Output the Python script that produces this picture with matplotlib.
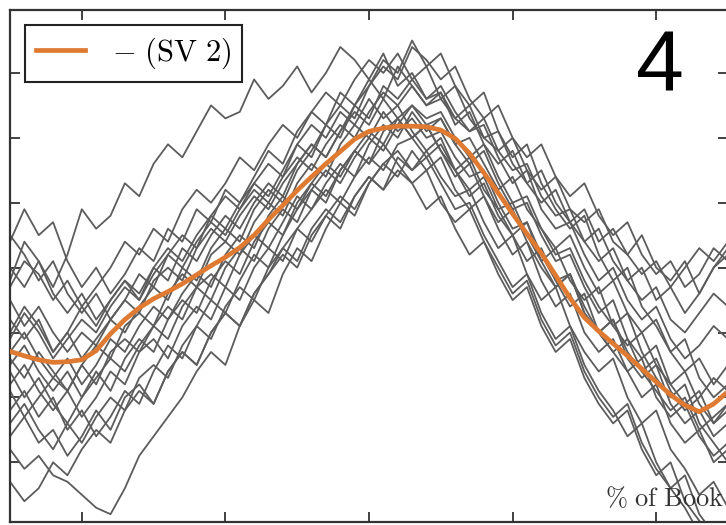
import matplotlib
matplotlib.use("Agg")
import matplotlib.pyplot as plt
import numpy as np

plt.rcParams["mathtext.fontset"] = "cm"

# position in the book (%), one sample every 2 %
pct_book = np.arange(0, 100.1, 2)

# smoothed mean curve, SV 2
sv2_mean = [-1.29, -1.36, -1.42, -1.46, -1.45, -1.42, -1.28, -1.02, -0.80, -0.62,
            -0.48, -0.37, -0.25, -0.11, 0.03, 0.16, 0.31, 0.50, 0.74, 0.96,
            1.19, 1.40, 1.60, 1.79, 1.98, 2.10, 2.15, 2.18, 2.18, 2.17,
            2.12, 1.99, 1.76, 1.46, 1.15, 0.83, 0.52, 0.22, -0.12, -0.47,
            -0.77, -0.98, -1.17, -1.36, -1.56, -1.76, -1.96, -2.12, -2.22, -2.10, -1.91]

# individual books (SV 2 time series)
book_a = [-0.2, 0.4, 0.1, -0.3, 0.2, 0.9, 0.6, 0.8, 1.3, 1.1, 1.6, 1.9, 1.7, 2.1, 2.5, 2.3, 2.4, 2.9, 2.6, 2.8,
          3.1, 2.7, 3.0, 3.4, 3.2, 2.9, 3.3, 2.8, 3.0, 2.6, 2.7, 2.3, 2.5, 2.0, 1.8, 2.0, 1.5, 1.2, 1.4, 0.9,
          0.7, 0.9, 0.4, 0.2, 0.5, 0.0, -0.2, 0.1, -0.4, 0.0, 0.3]
book_b = [0.4, 0.9, 0.5, 0.7, 0.1, -0.3, 0.0, -0.4, -0.1, 0.3, 0.1, 0.6, 0.4, 0.9, 0.7, 1.2, 1.0, 1.4, 1.8, 1.6,
          2.1, 2.4, 2.2, 2.7, 2.5, 2.9, 2.6, 3.1, 2.8, 2.5, 2.7, 2.2, 2.4, 1.9, 1.6, 1.8, 1.3, 1.0, 1.2, 0.7,
          0.4, 0.6, 0.1, -0.2, 0.0, -0.5, -0.3, -0.7, -0.4, 0.0, 0.2]
book_c = [-2.6, -2.3, -2.7, -2.5, -2.9, -2.6, -2.2, -2.5, -2.0, -1.8, -2.1, -1.6, -1.3, -1.5, -1.0, -0.7, -0.9, -0.4, -0.1, 0.3,
          0.1, 0.6, 0.9, 0.7, 1.1, 1.4, 1.2, 1.5, 1.3, 0.9, 1.1, 0.6, 0.2, 0.4, -0.1, -0.5, -0.3, -0.9, -1.3, -1.1,
          -1.7, -2.1, -2.4, -2.2, -2.8, -3.2, -3.0, -3.6, -3.9, -4.2, -4.5]
book_d = [-2.8, -3.1, -2.9, -3.2, -3.3, -3.5, -3.7, -3.8, -3.4, -2.9, -2.6, -2.3, -2.0, -1.6, -1.3, -1.5, -0.9, -0.5, -0.7, -0.1,
          0.3, 0.1, 0.6, 1.0, 0.8, 1.3, 1.6, 1.4, 1.8, 1.5, 1.7, 1.2, 0.9, 1.1, 0.6, 0.2, 0.4, -0.2, -0.6, -0.4,
          -1.0, -1.3, -1.1, -1.6, -2.0, -1.8, -2.4, -2.7, -2.5, -3.0, -2.8]
book_e = [-0.8, -1.1, -0.8, -1.3, -1.0, -0.6, -0.9, -0.5, -0.2, -0.4, 0.0, -0.2, 0.3, 0.1, 0.5, 0.8, 0.6, 1.0, 1.3, 1.1,
          1.6, 1.9, 1.7, 2.1, 2.4, 2.2, 2.6, 2.3, 2.5, 2.2, 2.3, 1.9, 2.0, 1.6, 1.2, 1.4, 0.9, 0.6, 0.3, 0.5,
          0.0, -0.4, -0.2, -0.7, -1.0, -0.8, -1.3, -1.6, -1.4, -1.8, -1.5]
book_f = [-1.8, -1.5, -1.9, -2.2, -1.9, -2.3, -2.0, -1.6, -1.8, -1.3, -1.1, -1.4, -0.9, -0.6, -0.8, -0.3, -0.5, 0.0, 0.3, 0.1,
          0.6, 0.9, 1.2, 1.0, 1.4, 1.7, 1.5, 1.9, 2.0, 1.7, 1.9, 1.5, 1.1, 1.3, 0.8, 0.5, 0.1, 0.3, -0.2, -0.6,
          -0.4, -1.0, -1.3, -1.6, -1.4, -2.0, -2.3, -2.1, -2.6, -2.9, -2.7]
book_g = [-1.0, -0.6, -0.9, -1.3, -1.0, -1.4, -1.1, -0.8, -1.0, -0.6, -0.3, -0.5, 0.0, -0.2, 0.3, 0.6, 0.4, 0.9, 1.2, 1.0,
          1.5, 1.8, 2.2, 2.0, 2.5, 2.8, 3.2, 3.0, 3.5, 3.1, 3.3, 2.8, 2.5, 2.7, 2.1, 1.7, 1.9, 1.3, 0.9, 0.6,
          0.8, 0.2, -0.2, 0.0, -0.6, -0.9, -1.3, -1.1, -1.7, -2.0, -1.8]
book_h = [-1.6, -2.0, -1.7, -2.1, -2.4, -2.0, -1.6, -1.9, -1.4, -1.1, -1.3, -0.8, -0.5, -0.7, -0.2, 0.1, -0.1, 0.4, 0.7, 0.5,
          1.0, 1.3, 1.1, 1.5, 1.8, 1.6, 1.9, 1.6, 1.3, 1.5, 1.0, 0.7, 0.9, 0.4, 0.0, -0.4, -0.2, -0.8, -1.2, -1.0,
          -1.6, -2.0, -2.3, -2.1, -2.7, -3.1, -3.4, -3.2, -3.8, -4.1, -4.4]
book_i = [0.0, -0.3, 0.1, -0.4, -0.7, -0.4, -0.8, -0.5, -0.2, -0.5, 0.0, 0.3, 0.1, 0.5, 0.8, 0.6, 1.0, 1.3, 1.1, 1.5,
          1.9, 1.7, 2.2, 2.5, 2.3, 2.8, 3.1, 2.9, 3.4, 3.2, 2.9, 3.1, 2.6, 2.3, 2.5, 2.0, 1.7, 1.9, 1.4, 1.1,
          1.3, 0.8, 0.5, 0.7, 0.2, -0.1, 0.1, -0.3, -0.1, 0.3, 0.1]
book_j = [-1.3, -1.0, -1.4, -1.7, -1.4, -1.8, -1.5, -1.1, -1.3, -0.9, -0.6, -0.8, -0.4, -0.1, -0.3, 0.2, 0.5, 0.3, 0.8, 1.1,
          0.9, 1.3, 1.6, 1.4, 1.8, 2.1, 1.9, 2.3, 2.0, 2.2, 1.8, 1.5, 1.7, 1.2, 0.9, 1.0, 0.5, 0.1, 0.3, -0.2,
          -0.5, -0.3, -0.9, -1.2, -1.0, -1.5, -1.8, -1.6, -2.1, -2.4, -2.2]
book_k = [-2.2, -1.9, -2.3, -2.0, -2.5, -2.2, -2.6, -2.3, -1.9, -2.1, -1.6, -1.2, -1.4, -0.9, -0.5, -0.7, -0.2, 0.2, 0.0, 0.5,
          0.9, 1.2, 1.0, 1.5, 1.8, 1.6, 2.1, 2.3, 2.0, 2.2, 1.8, 1.4, 1.6, 1.1, 0.7, 0.9, 0.4, 0.0, -0.3, -0.1,
          -0.7, -1.0, -0.8, -1.4, -1.7, -1.5, -2.1, -2.4, -2.2, -2.6, -2.4]
book_l = [0.5, 0.2, -0.2, 0.1, -0.4, -0.7, -0.4, -0.8, -0.5, -0.1, -0.3, 0.2, 0.5, 0.3, 0.8, 1.1, 0.9, 1.3, 1.6, 1.4,
          1.9, 2.2, 2.0, 2.4, 2.2, 2.6, 2.3, 2.5, 2.1, 1.8, 2.0, 1.5, 1.2, 1.4, 0.9, 0.5, 0.7, 0.1, -0.3, -0.1,
          -0.7, -1.0, -0.8, -1.3, -1.6, -1.4, -1.9, -2.2, -2.0, -1.7, -1.9]
book_m = [-1.1, -0.7, -1.0, -1.4, -1.1, -0.8, -1.0, -0.6, -0.3, -0.5, -0.1, 0.2, 0.0, 0.4, 0.7, 0.5, 0.9, 1.2, 1.0, 1.4,
          1.7, 1.5, 1.9, 2.2, 2.0, 2.4, 2.7, 2.5, 2.8, 2.5, 2.6, 2.3, 2.1, 2.3, 1.8, 1.5, 1.6, 1.1, 0.8, 0.9,
          0.4, 0.1, 0.3, -0.2, -0.5, -0.3, -0.8, -1.0, -0.7, -0.4, -0.6]
book_n = [-3.3, -3.6, -3.4, -3.0, -3.2, -2.8, -2.5, -2.7, -2.2, -1.9, -2.1, -1.6, -1.3, -1.5, -1.0, -0.7, -0.9, -0.4, -0.1, 0.2,
          0.0, 0.5, 0.8, 0.6, 1.1, 1.4, 1.2, 1.7, 1.5, 1.8, 1.4, 1.1, 1.2, 0.7, 0.3, 0.5, -0.1, -0.5, -0.3, -0.9,
          -1.3, -1.6, -1.4, -2.0, -2.4, -2.2, -2.8, -3.1, -3.5, -3.3, -3.7]
book_p = [-0.5, -0.9, -0.6, -1.0, -1.3, -1.0, -1.2, -0.8, -0.5, -0.7, -0.2, 0.0, -0.2, 0.3, 0.6, 0.4, 0.8, 1.1, 0.9, 1.3,
          1.6, 1.9, 1.7, 2.1, 2.5, 2.3, 2.8, 2.6, 2.9, 2.6, 2.8, 2.4, 2.1, 2.2, 1.7, 1.3, 1.5, 0.9, 0.6, 0.7,
          0.2, -0.2, 0.0, -0.5, -0.8, -0.6, -1.1, -1.4, -1.2, -0.9, -1.1]
book_q = [-1.9, -2.3, -2.0, -1.7, -1.9, -1.5, -1.8, -1.3, -1.1, -1.3, -0.9, -0.6, -0.8, -0.3, -0.1, -0.3, 0.2, 0.5, 0.3, 0.7,
          1.1, 0.9, 1.3, 1.6, 1.4, 1.9, 2.2, 2.0, 2.4, 2.1, 2.3, 1.9, 1.6, 1.8, 1.3, 0.9, 1.0, 0.5, 0.1, 0.2,
          -0.3, -0.7, -0.5, -1.1, -1.4, -1.2, -1.8, -2.1, -1.9, -2.4, -2.1]
book_r = [-1.5, -1.2, -1.6, -1.9, -1.6, -2.0, -1.7, -1.4, -1.6, -1.2, -0.9, -1.1, -0.6, -0.3, -0.5, 0.0, 0.3, 0.1, 0.6, 0.9,
          0.7, 1.2, 1.5, 1.3, 1.7, 2.0, 1.8, 2.2, 2.5, 2.3, 2.4, 2.0, 1.7, 1.9, 1.4, 1.0, 1.1, 0.6, 0.2, 0.3,
          -0.2, -0.6, -0.9, -0.7, -1.3, -1.7, -2.0, -1.8, -2.4, -2.7, -3.0]
book_s = [-0.3, 0.1, -0.1, -0.5, -0.2, -0.6, -0.3, 0.0, 0.4, 0.2, 0.6, 0.4, 0.9, 1.2, 1.0, 1.3, 1.7, 1.5, 1.9, 2.2,
          2.0, 2.4, 2.7, 2.5, 2.9, 3.2, 3.0, 3.3, 2.9, 3.1, 2.6, 2.8, 2.3, 2.0, 2.1, 1.6, 1.3, 1.5, 1.0, 0.7,
          0.9, 0.4, 0.6, 0.2, -0.1, 0.1, -0.3, 0.0, 0.3, 0.1, 0.4]
book_t = [-2.4, -2.1, -2.5, -2.8, -2.4, -2.7, -2.3, -2.0, -2.2, -1.7, -1.5, -1.7, -1.2, -0.9, -1.1, -0.6, -0.3, -0.5, 0.0, 0.3,
          0.6, 0.4, 0.8, 1.1, 0.9, 1.3, 1.6, 1.8, 1.5, 1.7, 1.3, 0.9, 1.0, 0.5, 0.1, -0.3, -0.1, -0.7, -1.1, -0.9,
          -1.5, -1.9, -2.2, -2.6, -2.4, -3.0, -3.4, -3.7, -4.1, -4.0, -4.3]
book_u = [-1.4, -1.7, -1.3, -1.6, -1.9, -1.5, -1.2, -1.4, -0.9, -0.7, -0.9, -0.4, -0.1, -0.3, 0.2, 0.4, 0.2, 0.7, 1.0, 0.8,
          1.3, 1.6, 1.4, 1.9, 2.2, 2.0, 2.4, 2.1, 2.3, 2.0, 2.1, 1.7, 1.4, 1.5, 1.0, 0.6, 0.7, 0.2, -0.2, -0.1,
          -0.6, -1.0, -1.3, -1.1, -1.6, -1.9, -2.2, -2.0, -2.5, -2.3, -2.1]

books = [book_a, book_b, book_c, book_d, book_e, book_f, book_g, book_h, book_i, book_j,
         book_k, book_l, book_m, book_n, book_p, book_q, book_r, book_s, book_t, book_u]

fig = plt.figure(figsize=(7.26, 5.25), dpi=100)
ax = fig.add_axes([10 / 726, 3 / 525, 718 / 726, 512 / 525])

for b in books:
    ax.plot(pct_book, b, color="#5c5c5c", lw=1.3, zorder=2)
ax.plot(pct_book, sv2_mean, color="#df7a33", lw=3.4, zorder=3,
        label=r"$\mathrm{-\ (SV\ 2)}$")

ax.set_xlim(0, 100)
ax.set_ylim(-3.92, 3.97)
ax.set_xticks([10, 30, 50, 70, 90])
ax.set_yticks([-3, -2, -1, 0, 1, 2, 3])
ax.tick_params(direction="in", length=7, width=1.3, top=True, right=True,
               labelleft=False, labelbottom=False, color="#333333")
for s in ax.spines.values():
    s.set_linewidth(1.6)
    s.set_color("#333333")

leg = ax.legend(loc="upper left", bbox_to_anchor=(15 / 718, 1 - 15 / 512),
                borderaxespad=0, fancybox=False, fontsize=22, handlelength=1.6,
                handletextpad=0.9, borderpad=0.35, framealpha=1)
leg.get_frame().set_edgecolor("#222222")
leg.get_frame().set_linewidth(1.5)

ax.text(0.905, 0.885, "4", transform=ax.transAxes, ha="center", va="center",
        fontsize=62, family="Liberation Sans")
ax.text(0.995, 0.02, r"$\mathrm{\%\ of\ Book}$", transform=ax.transAxes,
        ha="right", va="bottom", fontsize=19, color="#333333")

fig.savefig("out.png", dpi=100)
